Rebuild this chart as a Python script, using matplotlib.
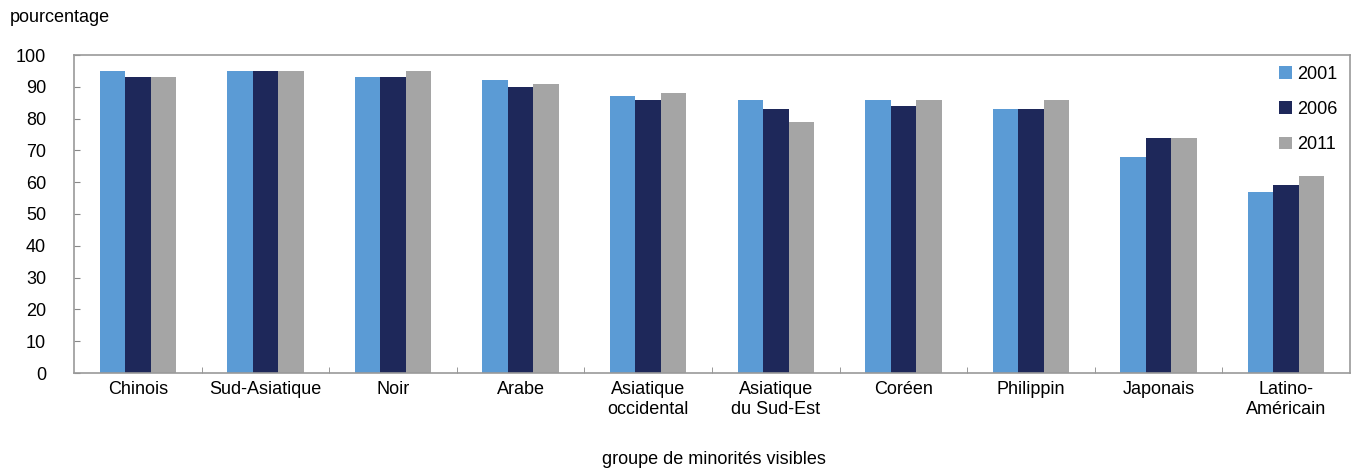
import numpy as np
import matplotlib
matplotlib.use('Agg')
import matplotlib.pyplot as plt

plt.rcParams['font.family'] = ['Liberation Sans Narrow', 'Liberation Sans', 'DejaVu Sans']

categories = ['Chinois', 'Sud-Asiatique', 'Noir', 'Arabe', 'Asiatique\noccidental',
              'Asiatique\ndu Sud-Est', 'Coréen', 'Philippin', 'Japonais', 'Latino-\nAméricain']
years = ['2001', '2006', '2011']
values_2001 = [95, 95, 93, 92, 87, 86, 86, 83, 68, 57]
values_2006 = [93, 95, 93, 90, 86, 83, 84, 83, 74, 59]
values_2011 = [93, 95, 95, 91, 88, 79, 86, 86, 74, 62]
colors = ['#5b9bd5', '#1e285a', '#a5a5a5']

fig = plt.figure(figsize=(13.51, 4.70), dpi=100)
ax = fig.add_axes([74 / 1351, 97 / 470, 1276 / 1351, 318 / 470])

x = np.arange(len(categories))
w = 0.2
for i, (vals, yr) in enumerate(zip([values_2001, values_2006, values_2011], years)):
    ax.bar(x + (i - 1) * w, vals, width=w, color=colors[i], label=yr)

ax.set_xlim(-0.5, len(categories) - 0.5)
ax.set_ylim(0, 100)
ax.set_yticks(range(0, 101, 10))
ax.set_xticks(x)
ax.set_xticklabels(categories, fontsize=13, linespacing=1.2)
ax.set_xticks(np.arange(0.5, len(categories) - 1, 1), minor=True)
ax.tick_params(axis='x', which='major', length=0, pad=6)
ax.tick_params(axis='x', which='minor', direction='in', length=4, color='#888888')
ax.tick_params(axis='y', direction='in', length=4, color='#888888', labelsize=13, pad=20)
for s in ax.spines.values():
    s.set_color('#999999')
    s.set_linewidth(1.2)

leg = ax.legend(loc='upper right', frameon=False, fontsize=13, handlelength=0.7,
                handleheight=0.7, handletextpad=0.3, labelspacing=1.0,
                borderaxespad=0.3, bbox_to_anchor=(1.0, 1.005))

fig.text(10 / 1351, 1 - 18 / 470, 'pourcentage', fontsize=13, va='center', ha='left')
fig.text(714 / 1351, 1 - 460 / 470, 'groupe de minorités visibles', fontsize=13,
         va='center', ha='center')

plt.savefig('out.png', dpi=100)
